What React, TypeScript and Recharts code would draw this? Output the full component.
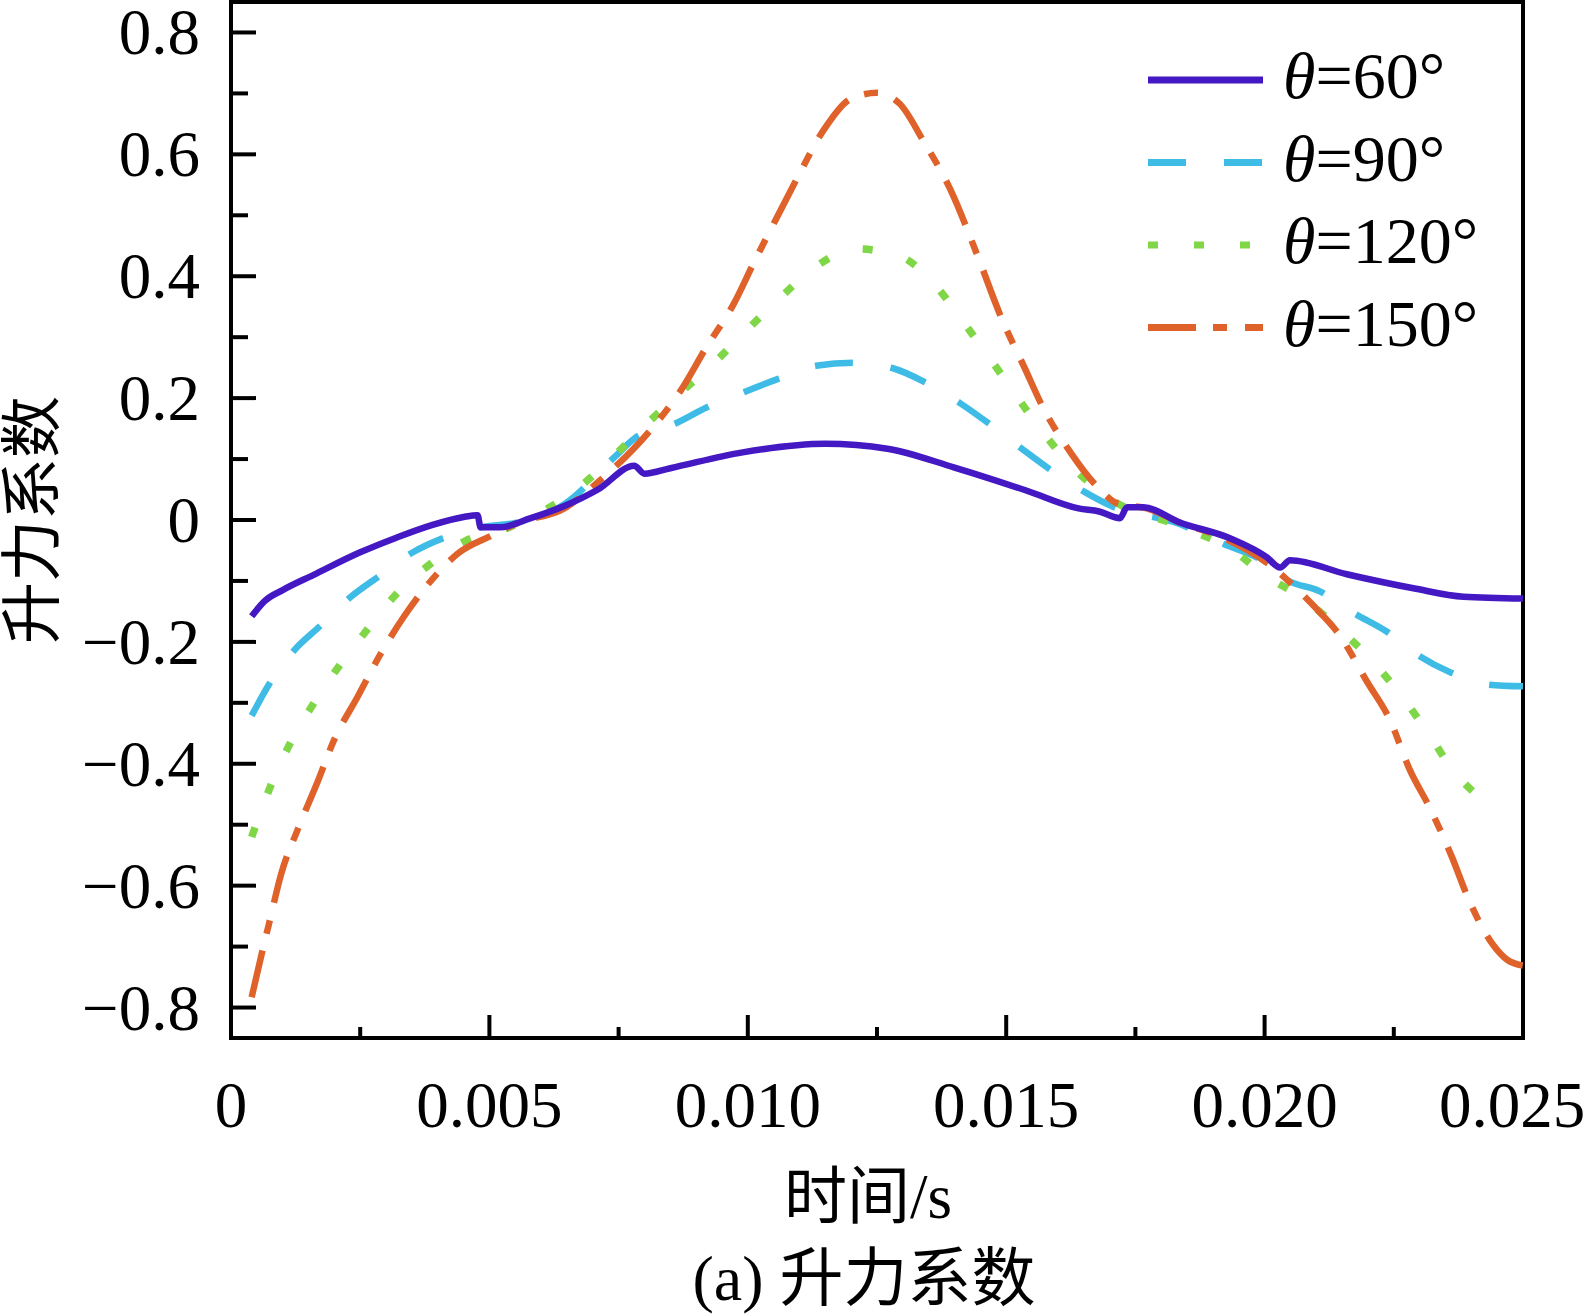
import { LineChart, Line, XAxis, YAxis, ReferenceArea, Legend } from "recharts";

// time (s) ticks, minor every 0.0025
const X_TICKS = [0, 0.0025, 0.005, 0.0075, 0.01, 0.0125, 0.015, 0.0175, 0.02, 0.0225, 0.025];
const Y_TICKS = [-0.8, -0.7, -0.6, -0.5, -0.4, -0.3, -0.2, -0.1, 0, 0.1, 0.2, 0.3, 0.4, 0.5, 0.6, 0.7, 0.8];

// [time, lift coefficient]
const THETA_60: [number, number][] = [
  [0.0004, -0.158], [0.00065, -0.133], [0.001, -0.115], [0.0016, -0.09], [0.0025, -0.053],
  [0.0032, -0.029], [0.0039, -0.008], [0.0045, 0.005], [0.00477, 0.008], [0.00483, -0.012],
  [0.0052, -0.012], [0.0058, 0.003], [0.00645, 0.023], [0.0071, 0.05], [0.0078, 0.089],
  [0.008, 0.076], [0.0085, 0.085], [0.0099, 0.111], [0.0115, 0.125], [0.0127, 0.117],
  [0.014, 0.086], [0.0154, 0.048], [0.0164, 0.019], [0.0168, 0.014], [0.0172, 0.003],
  [0.01734, 0.021], [0.01765, 0.021], [0.01836, -0.004], [0.01933, -0.03], [0.02004, -0.061],
  [0.0203, -0.078], [0.02049, -0.066], [0.02159, -0.089], [0.02288, -0.112], [0.02385, -0.126],
  [0.025, -0.129],
];

const THETA_90: [number, number][] = [
  [0.0004, -0.321], [0.00074, -0.269], [0.00123, -0.213], [0.00171, -0.175], [0.00232, -0.126],
  [0.00287, -0.092], [0.00352, -0.053], [0.00413, -0.029], [0.00484, -0.012], [0.00548, -0.005],
  [0.00645, 0.026], [0.00742, 0.103], [0.00781, 0.134], [0.00859, 0.158], [0.00921, 0.185],
  [0.0099, 0.209], [0.0106, 0.232], [0.01132, 0.253], [0.01205, 0.258], [0.01281, 0.249],
  [0.01343, 0.226], [0.01412, 0.191], [0.01467, 0.158], [0.0153, 0.117], [0.01588, 0.081],
  [0.01654, 0.045], [0.01709, 0.021], [0.0183, -0.005], [0.0192, -0.039], [0.02004, -0.071],
  [0.02043, -0.098], [0.02107, -0.117], [0.02171, -0.152], [0.02236, -0.183], [0.02297, -0.222],
  [0.02359, -0.25], [0.02432, -0.27], [0.025, -0.273],
];

const THETA_120: [number, number][] = [
  [0.0004, -0.52], [0.00074, -0.442], [0.0011, -0.374], [0.00154, -0.309], [0.00203, -0.247],
  [0.00257, -0.187], [0.00313, -0.128], [0.00377, -0.078], [0.00452, -0.035], [0.00535, -0.013],
  [0.00684, 0.061], [0.00742, 0.106], [0.00807, 0.16], [0.0087, 0.209], [0.00935, 0.258],
  [0.01001, 0.314], [0.01063, 0.365], [0.01129, 0.414], [0.01208, 0.445], [0.01291, 0.434],
  [0.0136, 0.388], [0.01415, 0.327], [0.01467, 0.267], [0.01516, 0.208], [0.01571, 0.144],
  [0.01626, 0.089], [0.01692, 0.04], [0.01856, -0.016], [0.01933, -0.047], [0.02007, -0.094],
  [0.02075, -0.129], [0.02146, -0.18], [0.02208, -0.231], [0.02266, -0.29], [0.02316, -0.349],
  [0.02365, -0.411], [0.0243, -0.462], [0.0245, -0.47],
];

const THETA_150: [number, number][] = [
  [0.0004, -0.783], [0.00061, -0.706], [0.00074, -0.661], [0.00097, -0.581], [0.00129, -0.508],
  [0.00165, -0.435], [0.002, -0.36], [0.00245, -0.29], [0.0029, -0.219], [0.00335, -0.158],
  [0.00397, -0.09], [0.00439, -0.055], [0.00503, -0.026], [0.00555, -0.005], [0.00645, 0.019],
  [0.00714, 0.065], [0.00811, 0.147], [0.00873, 0.216], [0.00918, 0.281], [0.00973, 0.355],
  [0.01011, 0.421], [0.01056, 0.496], [0.01098, 0.565], [0.01146, 0.639], [0.01201, 0.692],
  [0.0125, 0.701], [0.01294, 0.683], [0.01339, 0.623], [0.01391, 0.544], [0.01443, 0.437],
  [0.01491, 0.331], [0.01536, 0.249], [0.01571, 0.185], [0.01626, 0.109], [0.01678, 0.053],
  [0.01716, 0.027], [0.01772, 0.019], [0.0185, -0.009], [0.01889, -0.019], [0.02016, -0.078],
  [0.0205, -0.103], [0.02094, -0.14], [0.02146, -0.19], [0.02198, -0.265], [0.02243, -0.329],
  [0.02281, -0.41], [0.0232, -0.473], [0.02363, -0.554], [0.02394, -0.621], [0.02442, -0.697],
  [0.0247, -0.722], [0.025, -0.731],
];

const SERIES = [
  { angle: "90", points: THETA_90, color: "#3FBCE6", dash: "38 38", width: 6.5 },
  { angle: "120", points: THETA_120, color: "#7FD646", dash: "10 36", width: 7.5 },
  { angle: "150", points: THETA_150, color: "#E0622B", dash: "48 17 14 18", width: 6.5 },
  { angle: "60", points: THETA_60, color: "#4419C4", dash: undefined, width: 6.5 },
];
const LEGEND_ORDER = ["60", "90", "120", "150"];

const SERIF = '"Liberation Serif", "Times New Roman", serif';
const MIXED = '"Liberation Serif", "Noto Sans CJK SC", serif';
const TICK_GAP = 10;

const toRows = (pts: [number, number][]) => pts.map(([t, cl]) => ({ t, cl }));

function XTick(props: any) {
  const { x, y, payload } = props;
  const v = payload.value;
  const major = Math.abs(v / 0.005 - Math.round(v / 0.005)) < 1e-6;
  const axisY = y - TICK_GAP;
  const label = v === 0 ? "0" : v.toFixed(3);
  const shift = v > 0.0249 ? -11 : 0;
  return (
    <g>
      <line x1={x} x2={x} y1={axisY} y2={axisY - (major ? 23 : 11)} stroke="#000" strokeWidth={4} />
      {major && (
        <text x={x + shift} y={axisY + 89} textAnchor="middle" fontSize={65} fontFamily={SERIF} fill="#000">
          {label}
        </text>
      )}
    </g>
  );
}

function YTick(props: any) {
  const { x, y, payload } = props;
  const v = payload.value;
  const major = Math.round(Math.abs(v) * 10) % 2 === 0;
  const axisX = x + TICK_GAP;
  const label = Math.abs(v) < 1e-9 ? "0" : (v < 0 ? "\u2212" : "") + Math.abs(v).toFixed(1);
  return (
    <g>
      <line x1={axisX} x2={axisX + (major ? 25 : 17)} y1={y} y2={y} stroke="#000" strokeWidth={4} />
      {major && (
        <text x={axisX - 31} y={y + 22} textAnchor="end" fontSize={65} fontFamily={SERIF} fill="#000">
          {label}
        </text>
      )}
    </g>
  );
}

function YTitle(props: any) {
  const { viewBox } = props;
  const cx = viewBox.x + 33;
  const cy = viewBox.y + viewBox.height / 2;
  return (
    <text x={cx} y={cy} transform={`rotate(-90 ${cx} ${cy})`} textAnchor="middle" dominantBaseline="central"
      fontSize={62} fontFamily={MIXED} fill="#000">
      升力系数
    </text>
  );
}

function XTitle(props: any) {
  const { viewBox } = props;
  const cx = viewBox.x + viewBox.width / 2 - 9;
  return (
    <g>
      <text x={cx} y={viewBox.y + 180} textAnchor="middle" fontSize={63} fontFamily={MIXED} fill="#000">
        时间/s
      </text>
      <text x={cx - 4} y={viewBox.y + 262} textAnchor="middle" fontSize={64} fontFamily={MIXED} fill="#000">
        (a) 升力系数
      </text>
    </g>
  );
}

function LegendBox() {
  return (
    <svg width={440} height={330}>
      {LEGEND_ORDER.map((a, i) => {
        const s = SERIES.find((d) => d.angle === a)!;
        const cy = 50 + i * 82.5;
        return (
          <g key={a}>
            <line x1={28} x2={143} y1={cy} y2={cy} stroke={s.color} strokeWidth={7} strokeDasharray={s.dash} />
            <text x={163} y={cy + 18} fontSize={66} fontFamily={SERIF} fill="#000">
              <tspan fontStyle="italic">θ</tspan>={a}°
            </text>
          </g>
        );
      })}
    </svg>
  );
}

export default function App() {
  return (
    <div style={{ position: "absolute", left: 0, top: 0, width: 1585, height: 1314, background: "#fff" }}>
      <LineChart width={1585} height={1314} margin={{ top: 2, right: 62, bottom: 0, left: 0 }}>
        <XAxis
          type="number"
          dataKey="t"
          domain={[0, 0.025]}
          ticks={X_TICKS}
          interval={0}
          allowDataOverflow
          height={276}
          axisLine={false}
          tickLine={false}
          tickSize={0}
          tickMargin={TICK_GAP}
          tick={<XTick />}
          label={{ content: XTitle }}
        />
        <YAxis
          type="number"
          domain={[-0.85, 0.85]}
          ticks={Y_TICKS}
          interval={0}
          allowDataOverflow
          width={231}
          axisLine={false}
          tickLine={false}
          tickSize={0}
          tickMargin={TICK_GAP}
          tick={<YTick />}
          label={{ content: YTitle }}
        />
        <ReferenceArea x1={0} x2={0.025} y1={-0.85} y2={0.85} fill="none" fillOpacity={0} stroke="#000"
          strokeWidth={4} ifOverflow="visible" />
        {SERIES.map((s) => (
          <Line
            key={s.angle}
            data={toRows(s.points)}
            dataKey="cl"
            type="monotone"
            stroke={s.color}
            strokeWidth={s.width}
            strokeDasharray={s.dash}
            dot={false}
            activeDot={false}
            isAnimationActive={false}
          />
        ))}
        <Legend
          layout="horizontal"
          verticalAlign="middle"
          align="center"
          content={() => <LegendBox />}
          wrapperStyle={{ left: 1120, top: 30, width: 440, height: 330 }}
        />
      </LineChart>
    </div>
  );
}
